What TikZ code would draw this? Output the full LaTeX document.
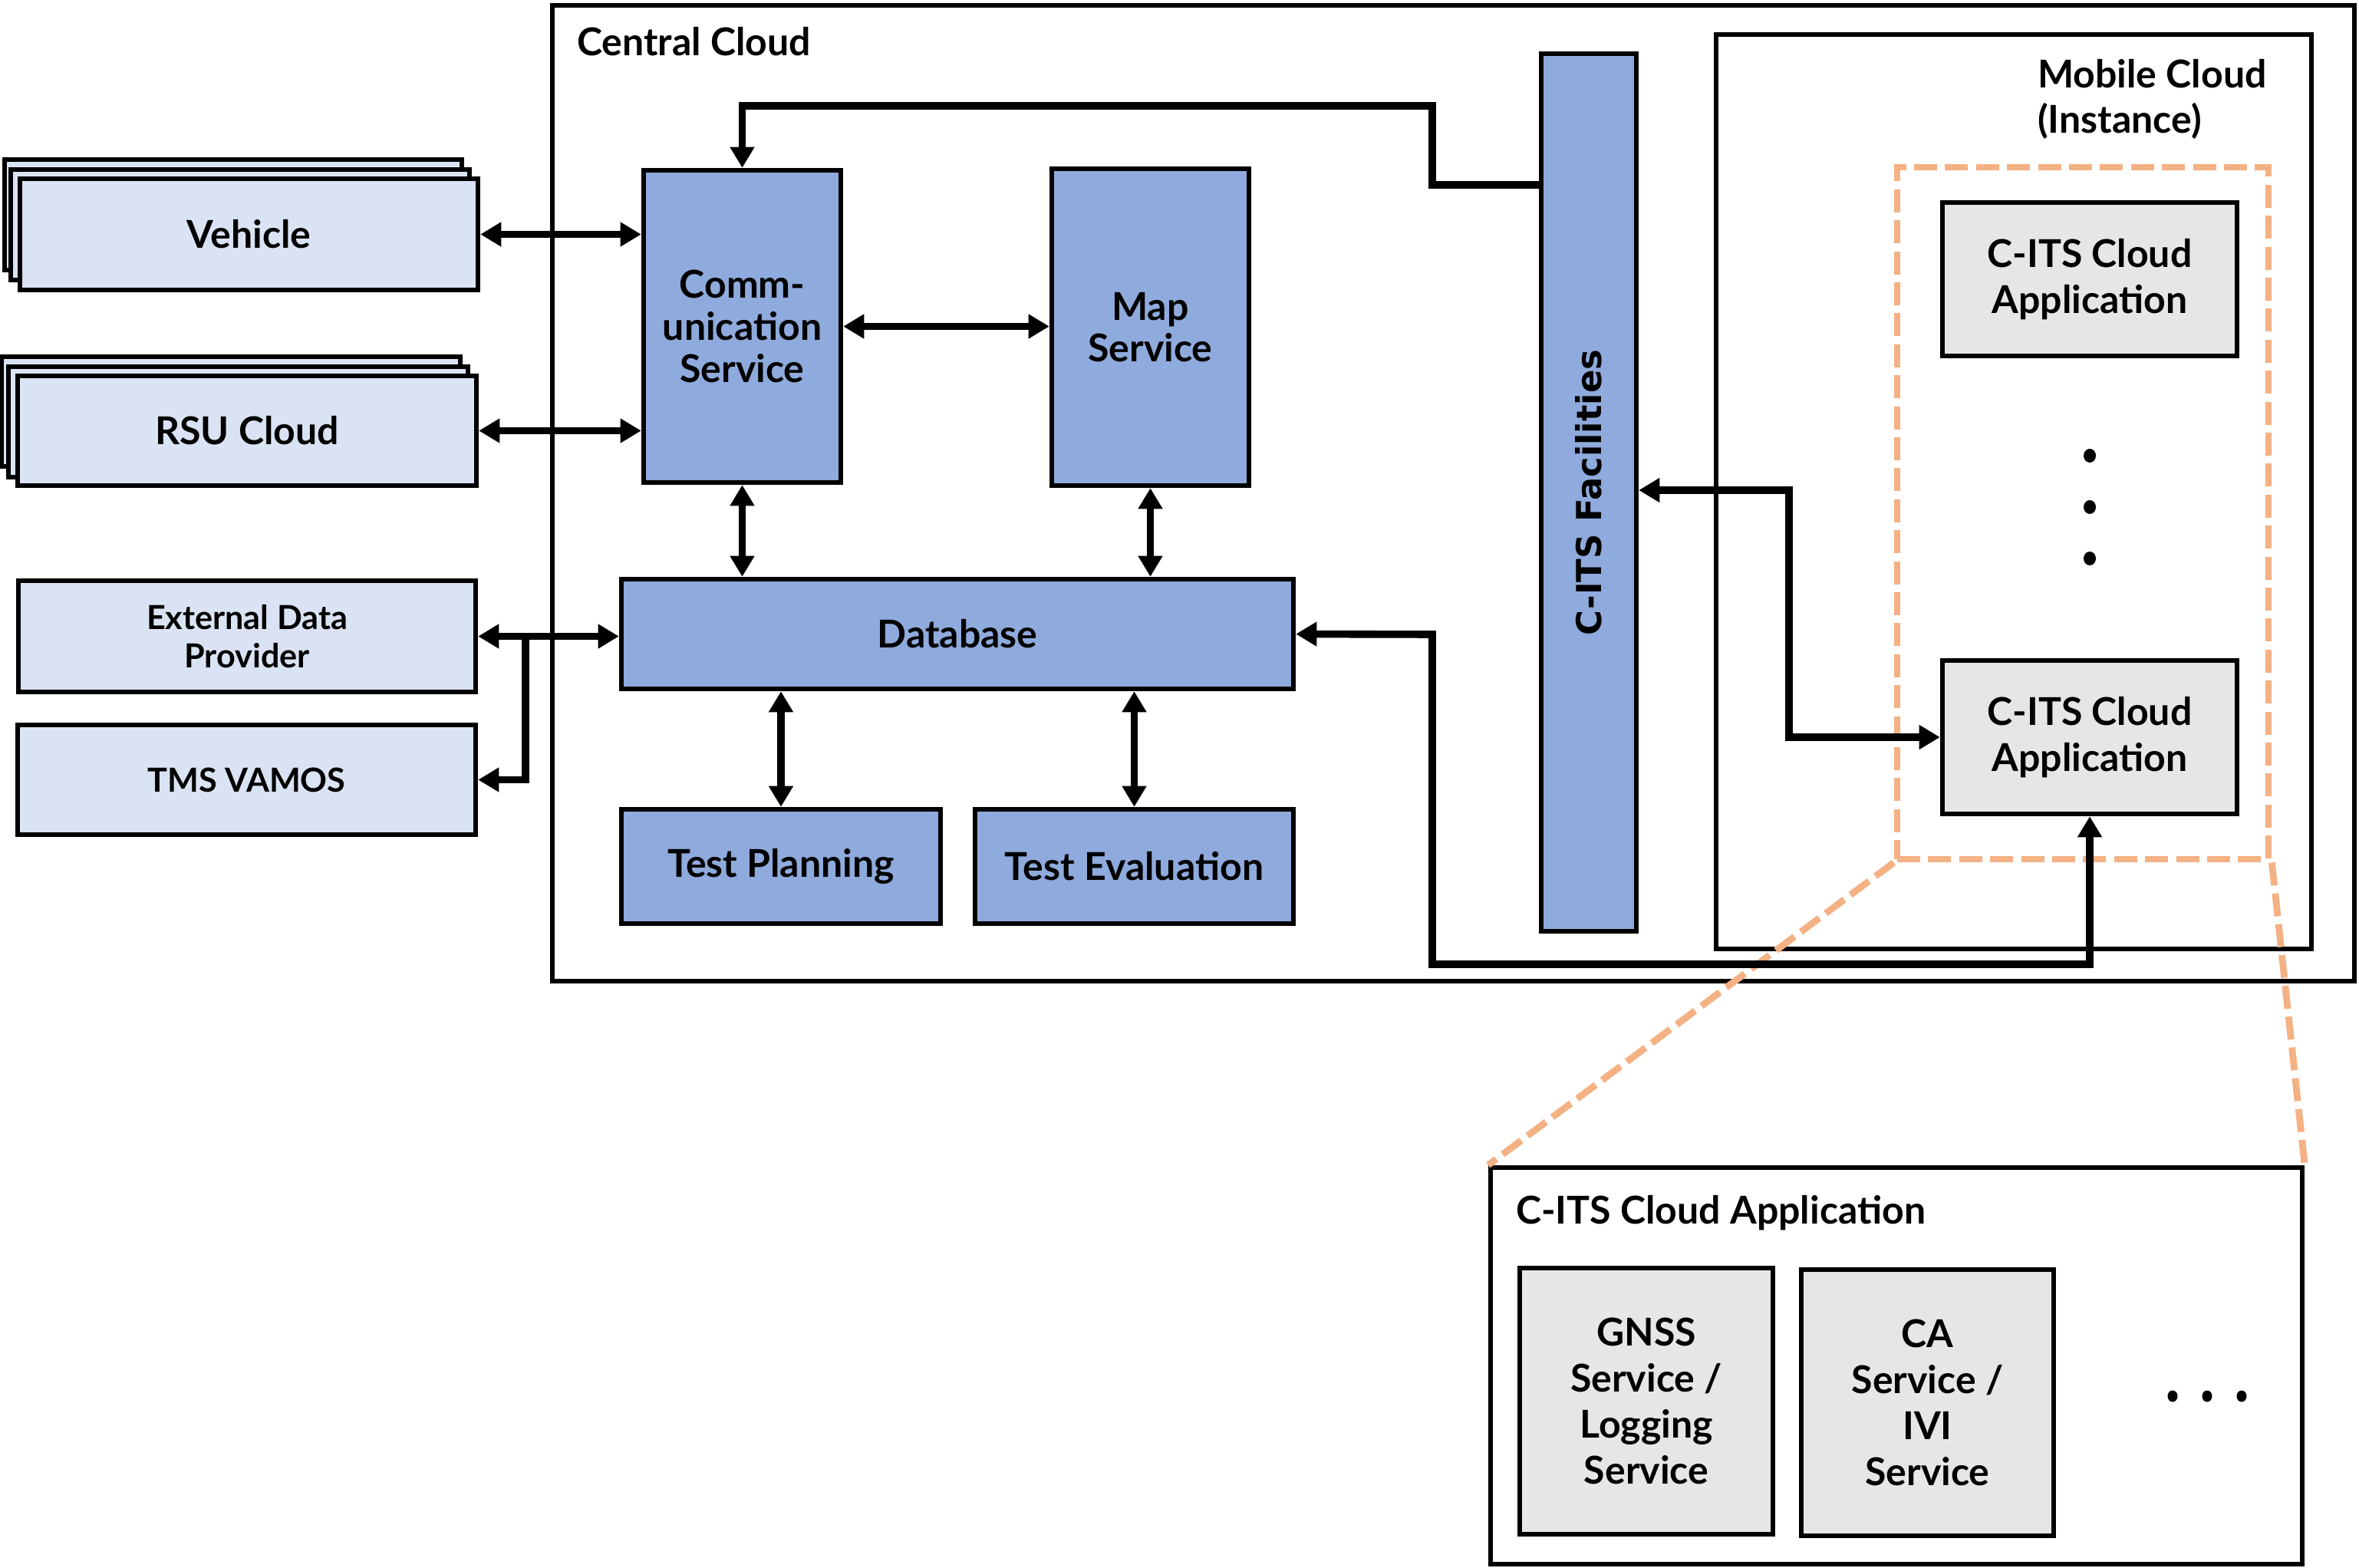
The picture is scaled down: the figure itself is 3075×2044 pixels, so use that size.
\documentclass[tikz,border=0pt]{standalone}
\usepackage{fontspec}
\setmainfont{Lato}
\newfontfamily\facfont{DejaVu Sans}
\usetikzlibrary{arrows.meta}
\definecolor{lightb}{HTML}{DAE3F3}
\definecolor{midb}{HTML}{8FAADC}
\definecolor{grayb}{HTML}{E7E6E6}
\definecolor{orangeb}{HTML}{F4B183}
\tikzset{
  txt/.style={font=\bfseries\fontsize{12.5}{14}\selectfont},
  spanbox/.style args={#1/#2/#3/#4}{minimum width={(#3-#1)*0.25pt}, minimum height={(#4-#2)*0.25pt}, at={(#1/2+#3/2, #2/2+#4/2)}},
  basebox/.style={draw, line width=1.6pt, inner sep=0pt, align=center, txt},
  lbox/.style={basebox, fill=lightb},
  mbox/.style={basebox, fill=midb},
  gbox/.style={basebox, fill=grayb},
  wbox/.style={basebox, fill=white},
  tipx/.tip={Triangle[length=6.8pt,width=7.6pt]},
  conn/.style={line width=2.4pt, -tipx},
  dconn/.style={line width=2.4pt, tipx-tipx},
  orl/.style={draw=orangeb, line width=2.2pt, dash pattern=on 7.5pt off 2.6pt},
  dotc/.style={fill=black, draw=none},
}
\begin{document}
\begin{tikzpicture}[x=0.25pt, y=-0.25pt]
\useasboundingbox (0,0) rectangle (3075,2044);
% containers
\node[basebox, spanbox=720/7/3069/1279] (cc) {};
\node[txt, anchor=west] (cclbl) at (738,54) {Central Cloud};
\node[basebox, spanbox=2237/45/3013/1237] (mc) {};
\node[txt, anchor=west, align=left, font=\bfseries\fontsize{12.5}{14.7}\selectfont] (mclbl) at (2642,129) {Mobile Cloud\\(Instance)};
\node[orl, spanbox=2473/218/2957/1120, inner sep=0pt] (grp) {};
% left stacked boxes
\node[lbox, spanbox=6/208/602/352] (veh3) {};
\node[lbox, spanbox=14/221/612/365] (veh2) {};
\node[lbox, spanbox=26/233/623/378] (veh) {Vehicle};
\node[lbox, spanbox=2/465/600/608] (rsu3) {};
\node[lbox, spanbox=11/478/610/622] (rsu2) {};
\node[lbox, spanbox=23/490/621/633] (rsu) {RSU Cloud};
\node[lbox, spanbox=24/757/620/902, font=\bfseries\fontsize{10.8}{12.4}\selectfont] (edp) {External Data\\Provider};
\node[lbox, spanbox=23/945/620/1088, font=\bfseries\fontsize{10.8}{12.4}\selectfont] (tms) {TMS VAMOS};
% central cloud contents
\node[mbox, spanbox=839/222/1096/629, font=\bfseries\fontsize{12.5}{13.7}\selectfont] (comm) {Comm-\\unication\\Service};
\node[mbox, spanbox=1371/220/1628/633, font=\bfseries\fontsize{12.5}{13.5}\selectfont] (map) {Map\\Service};
\node[mbox, spanbox=810/755/1686/898] (db) {Database};
\node[mbox, spanbox=810/1055/1226/1204] (tp) {Test Planning};
\node[mbox, spanbox=1271/1055/1686/1204] (te) {Test Evaluation};
\node[mbox, spanbox=2009/70/2133/1214] (fac) {};
\node[rotate=90, font=\facfont\bfseries\fontsize{11.2}{13}\selectfont] (faclbl) at (fac.center) {C-ITS Facilities};
% mobile cloud contents
\node[gbox, spanbox=2532/264/2916/464, font=\bfseries\fontsize{12.5}{15}\selectfont] (app1) {C-ITS Cloud\\Application};
\node[gbox, spanbox=2532/861/2916/1061, font=\bfseries\fontsize{12.5}{15}\selectfont] (app2) {C-ITS Cloud\\Application};
\fill[dotc] (2724,594) ellipse (8 and 9);
\fill[dotc] (2724,661) ellipse (8 and 9);
\fill[dotc] (2724,728) ellipse (8 and 9);
% detail box
\node[wbox, spanbox=1943/1522/3001/2039] (detail) {};
\node[txt, anchor=west] (detlbl) at (1962,1581) {C-ITS Cloud Application};
\node[gbox, spanbox=1981/1653/2311/2000, font=\bfseries\fontsize{12.5}{15}\selectfont] (gnss) {GNSS\\Service /\\Logging\\Service};
\node[gbox, spanbox=2348/1655/2677/2002, font=\bfseries\fontsize{12.5}{15}\selectfont] (ca) {CA\\Service /\\IVI\\Service};
\fill[dotc] (2832,1820) ellipse (6.5 and 7.5);
\fill[dotc] (2877,1820) ellipse (6.5 and 7.5);
\fill[dotc] (2922,1820) ellipse (6.5 and 7.5);
% orange zoom lines
\draw[orl] (grp.south west) -- (detail.north west);
\draw[orl] (grp.south east) -- (detail.north east);
% connectors
\draw[dconn] (veh.east) -- (veh.east -| comm.west);
\draw[dconn] (rsu.east) -- (rsu.east -| comm.west);
\draw[dconn] (edp.east) -- (edp.east -| db.west);
\coordinate (br) at (685,829);
\draw[conn] (br) |- (tms.east);
\draw[dconn] (comm.east) -- (comm.east -| map.west);
\draw[dconn] (comm.south) -- (comm.south |- db.north);
\draw[dconn] (map.south) -- (map.south |- db.north);
\draw[dconn] (db.south -| tp.north) -- (tp.north);
\draw[dconn] (db.south -| te.north) -- (te.north);
\coordinate (f1) at (1867,241);
\coordinate (f2) at (1867,138);
\draw[conn] (fac.west |- f1) -- (f1) -- (f2) -| (comm.north);
\coordinate (g1) at (2332,639);
\draw[dconn] (fac.east |- g1) -- (g1) |- (app2.west);
\coordinate (h1) at (1867,827);
\coordinate (h2) at (1867,1257);
\draw[dconn] (db.east) -- (h1) -- (h2) -| (app2.south);
\end{tikzpicture}
\end{document}
